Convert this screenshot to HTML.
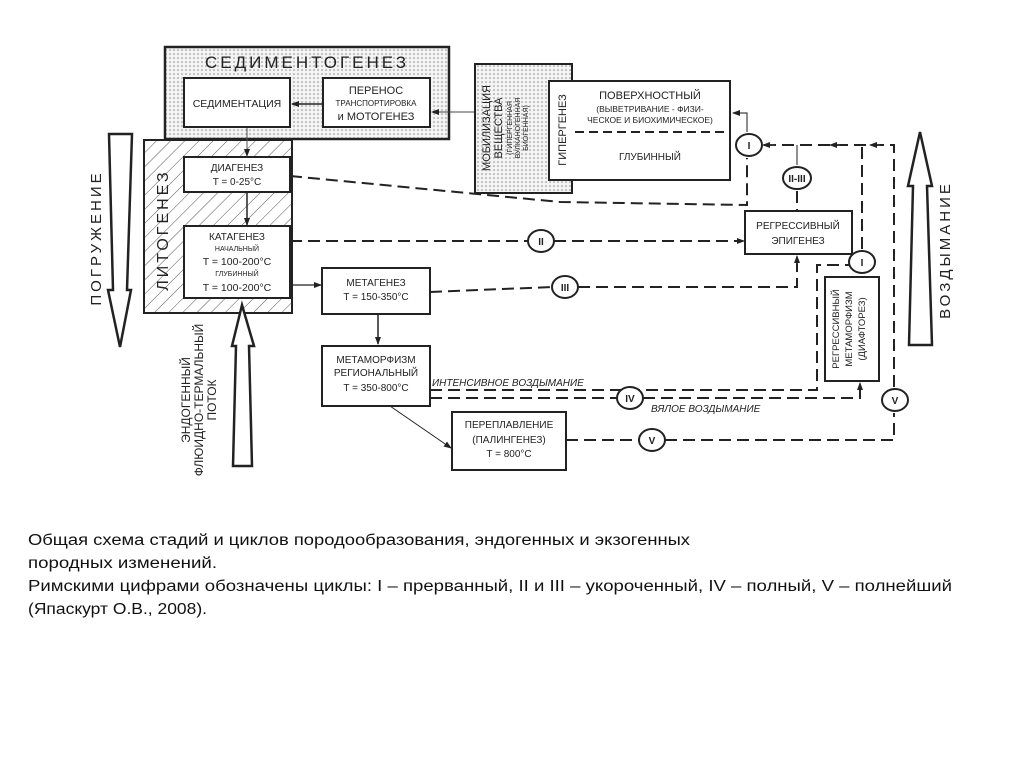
<!DOCTYPE html>
<html><head><meta charset="utf-8"><style>
html,body{margin:0;padding:0;background:#fff;}
svg{display:block;}
text{font-family:"Liberation Sans","Noto Sans CJK SC",sans-serif;fill:#222;}
.cap{font-size:15.5px;fill:#111;}
</style></head><body>
<svg width="1024" height="767" viewBox="0 0 1024 767" xmlns="http://www.w3.org/2000/svg">
<defs>
<pattern id="dots" width="4" height="4" patternUnits="userSpaceOnUse"><rect width="4" height="4" fill="#f4f4f4"/><circle cx="2" cy="2" r="0.8" fill="#888"/></pattern>
<pattern id="hatch" width="10" height="10" patternUnits="userSpaceOnUse" patternTransform="rotate(45)"><rect width="10" height="10" fill="#fff"/><line x1="0" y1="0" x2="0" y2="10" stroke="#555" stroke-width="1"/></pattern>
<marker id="ar" markerWidth="8" markerHeight="8" refX="7" refY="4" orient="auto" markerUnits="userSpaceOnUse"><path d="M0,1 L8,4 L0,7 z" fill="#222"/></marker>
</defs>

<!-- Sedimentogenez -->
<rect x="165" y="47" width="284" height="92" fill="url(#dots)" stroke="#222" stroke-width="2.5"/>
<text x="307" y="68" font-size="17" text-anchor="middle" letter-spacing="3">СЕДИМЕНТОГЕНЕЗ</text>
<rect x="184" y="78" width="106" height="49" fill="#fff" stroke="#222" stroke-width="2"/>
<text x="237" y="107" font-size="10.5" text-anchor="middle">СЕДИМЕНТАЦИЯ</text>
<rect x="323" y="78" width="107" height="49" fill="#fff" stroke="#222" stroke-width="2"/>
<text x="376" y="94" font-size="11" text-anchor="middle">ПЕРЕНОС</text>
<text x="376" y="106" font-size="8" text-anchor="middle">ТРАНСПОРТИРОВКА</text>
<text x="376" y="120" font-size="11" text-anchor="middle">и МОТОГЕНЕЗ</text>
<line x1="323" y1="104" x2="292" y2="104" stroke="#222" stroke-width="1.5" marker-end="url(#ar)"/>
<line x1="476" y1="112" x2="432" y2="112" stroke="#444" stroke-width="1" marker-end="url(#ar)"/>

<!-- Litogenez -->
<rect x="144" y="140" width="148" height="173" fill="url(#hatch)" stroke="#222" stroke-width="2"/>
<rect x="145" y="140" width="146" height="0" stroke="none"/>
<text transform="translate(168,230) rotate(-90)" font-size="16" text-anchor="middle" letter-spacing="3">ЛИТОГЕНЕЗ</text>
<rect x="184" y="157" width="106" height="35" fill="#fff" stroke="#222" stroke-width="2"/>
<text x="237" y="171" font-size="10" text-anchor="middle">ДИАГЕНЕЗ</text>
<text x="237" y="185" font-size="10" text-anchor="middle">T = 0-25°C</text>
<line x1="247" y1="128" x2="247" y2="156" stroke="#555" stroke-width="1" marker-end="url(#ar)"/>
<line x1="247" y1="192" x2="247" y2="225" stroke="#222" stroke-width="1.5" marker-end="url(#ar)"/>
<rect x="184" y="226" width="106" height="72" fill="#fff" stroke="#222" stroke-width="2"/>
<text x="237" y="240" font-size="10" text-anchor="middle">КАТАГЕНЕЗ</text>
<text x="237" y="251" font-size="7" text-anchor="middle">НАЧАЛЬНЫЙ</text>
<text x="237" y="265" font-size="10.5" text-anchor="middle">T = 100-200°C</text>
<text x="237" y="276" font-size="7" text-anchor="middle">ГЛУБИННЫЙ</text>
<text x="237" y="291" font-size="10.5" text-anchor="middle">T = 100-200°C</text>

<!-- Metagenez -->
<line x1="290" y1="285" x2="321" y2="285" stroke="#222" stroke-width="1.2" marker-end="url(#ar)"/>
<rect x="322" y="268" width="108" height="46" fill="#fff" stroke="#222" stroke-width="2"/>
<text x="376" y="286" font-size="10" text-anchor="middle">МЕТАГЕНЕЗ</text>
<text x="376" y="300" font-size="10" text-anchor="middle">T = 150-350°C</text>
<line x1="378" y1="314" x2="378" y2="344" stroke="#222" stroke-width="1.5" marker-end="url(#ar)"/>
<rect x="322" y="346" width="108" height="60" fill="#fff" stroke="#222" stroke-width="2"/>
<text x="376" y="363" font-size="10" text-anchor="middle">МЕТАМОРФИЗМ</text>
<text x="376" y="376" font-size="10" text-anchor="middle">РЕГИОНАЛЬНЫЙ</text>
<text x="376" y="391" font-size="10" text-anchor="middle">T = 350-800°C</text>
<line x1="390" y1="406" x2="451" y2="448" stroke="#222" stroke-width="1" marker-end="url(#ar)"/>
<rect x="452" y="412" width="114" height="58" fill="#fff" stroke="#222" stroke-width="2"/>
<text x="509" y="428" font-size="10" text-anchor="middle">ПЕРЕПЛАВЛЕНИЕ</text>
<text x="509" y="443" font-size="10" text-anchor="middle">(ПАЛИНГЕНЕЗ)</text>
<text x="509" y="457" font-size="10" text-anchor="middle">T = 800°C</text>

<!-- Mobilization -->
<rect x="475" y="64" width="97" height="129" fill="url(#dots)" stroke="#222" stroke-width="2"/>
<text transform="translate(490,128) rotate(-90)" font-size="11" text-anchor="middle">МОБИЛИЗАЦИЯ</text>
<text transform="translate(502,128) rotate(-90)" font-size="11" text-anchor="middle">ВЕЩЕСТВА</text>
<text transform="translate(512,128) rotate(-90)" font-size="7" text-anchor="middle">(ГИПЕРГЕННАЯ</text>
<text transform="translate(520,128) rotate(-90)" font-size="7" text-anchor="middle">ВУЛКАНОГЕННАЯ</text>
<text transform="translate(528,128) rotate(-90)" font-size="7" text-anchor="middle">БИОГЕННАЯ)</text>

<!-- Hypergenez -->
<rect x="549" y="81" width="181" height="99" fill="#fff" stroke="#222" stroke-width="2"/>
<text transform="translate(566,130) rotate(-90)" font-size="11" text-anchor="middle">ГИПЕРГЕНЕЗ</text>
<line x1="575" y1="132" x2="728" y2="132" stroke="#222" stroke-width="2" stroke-dasharray="9,5"/>
<text x="650" y="99" font-size="11" text-anchor="middle">ПОВЕРХНОСТНЫЙ</text>
<text x="650" y="112" font-size="8.5" text-anchor="middle">(ВЫВЕТРИВАНИЕ - ФИЗИ-</text>
<text x="650" y="123" font-size="8.5" text-anchor="middle">ЧЕСКОЕ И БИОХИМИЧЕСКОЕ)</text>
<text x="650" y="160" font-size="10" text-anchor="middle">ГЛУБИННЫЙ</text>

<!-- cycle lines -->
<g fill="none" stroke="#222" stroke-width="2" stroke-dasharray="12,6">
<path d="M290 176 L560 202 L747 205 L747 158"/>
<path d="M290 241 L528 241"/>
<path d="M554 241 L740 241"/>
<path d="M430 292 L552 287"/>
<path d="M578 287 L797 287 L797 262"/>
<path d="M430 390 L802 390 L817 390 L817 265 L849 265"/>
<path d="M430 398 L617 398"/>
<path d="M643 398 L860 398 L860 383"/>
<path d="M566 440 L639 440"/>
<path d="M665 440 L894 440 L894 413"/>
<path d="M894 387 L894 145 L762 145"/>
<path d="M862 249 L862 145"/>
<path d="M797 191 L797 210"/>
</g>
<g fill="none" stroke="#444" stroke-width="1.2">
<path d="M747 132 L747 113 L733 113" marker-end="url(#ar)"/>
<path d="M737 241 L744 241" marker-end="url(#ar)"/>
<path d="M797 264 L797 256" marker-end="url(#ar)"/>
<path d="M860 386 L860 383" marker-end="url(#ar)"/>
<path d="M797 145 L797 165"/>
<path d="M775 145 L763 145" marker-end="url(#ar)"/>
<path d="M840 145 L830 145" marker-end="url(#ar)"/>
<path d="M880 145 L870 145" marker-end="url(#ar)"/>
</g>

<!-- circles -->
<g fill="#fff" stroke="#222" stroke-width="2">
<ellipse cx="749" cy="145" rx="13" ry="11"/>
<ellipse cx="797" cy="178" rx="14" ry="11"/>
<ellipse cx="862" cy="262" rx="13" ry="11"/>
<ellipse cx="541" cy="241" rx="13" ry="11"/>
<ellipse cx="565" cy="287" rx="13" ry="11"/>
<ellipse cx="630" cy="398" rx="13" ry="11"/>
<ellipse cx="652" cy="440" rx="13" ry="11"/>
<ellipse cx="895" cy="400" rx="13" ry="11"/>
</g>
<g font-size="10" font-weight="bold" text-anchor="middle">
<text x="749" y="149">I</text>
<text x="797" y="182">II-III</text>
<text x="862" y="266">I</text>
<text x="541" y="245">II</text>
<text x="565" y="291">III</text>
<text x="630" y="402">IV</text>
<text x="652" y="444">V</text>
<text x="895" y="404">V</text>
</g>

<!-- regressive epigenez -->
<rect x="745" y="211" width="107" height="43" fill="#fff" stroke="#222" stroke-width="2"/>
<text x="798" y="229" font-size="10" text-anchor="middle">РЕГРЕССИВНЫЙ</text>
<text x="798" y="244" font-size="10" text-anchor="middle">ЭПИГЕНЕЗ</text>
<!-- regressive metamorphism -->
<rect x="825" y="277" width="54" height="104" fill="#fff" stroke="#222" stroke-width="2"/>
<text transform="translate(839,329) rotate(-90)" font-size="9.5" text-anchor="middle">РЕГРЕССИВНЫЙ</text>
<text transform="translate(852,329) rotate(-90)" font-size="9.5" text-anchor="middle">МЕТАМОРФИЗМ</text>
<text transform="translate(865,329) rotate(-90)" font-size="9.5" text-anchor="middle">(ДИАФТОРЕЗ)</text>

<text x="432" y="386" font-size="10" font-style="italic">ИНТЕНСИВНОЕ ВОЗДЫМАНИЕ</text>
<text x="651" y="412" font-size="10" font-style="italic">ВЯЛОЕ ВОЗДЫМАНИЕ</text>

<!-- big arrows -->
<g fill="#fff" stroke="#222" stroke-width="2.5" stroke-linejoin="miter">
<path d="M109 134 L132 134 L127 290 L131 290 L120 347 L108 290 L113 290 Z"/>
<path d="M920 132 L908 186 L913 186 L909 345 L932 345 L927 186 L932 186 Z"/>
<path d="M242 305 L232 346 L236 346 L233 466 L252 466 L249 346 L254 346 Z"/>
</g>
<text transform="translate(101,238) rotate(-90)" font-size="15" text-anchor="middle" letter-spacing="3">ПОГРУЖЕНИЕ</text>
<text transform="translate(950,250) rotate(-90)" font-size="15" text-anchor="middle" letter-spacing="3">ВОЗДЫМАНИЕ</text>
<text transform="translate(190,400) rotate(-90)" font-size="12" text-anchor="middle">ЭНДОГЕННЫЙ</text>
<text transform="translate(203,400) rotate(-90)" font-size="12" text-anchor="middle">ФЛЮИДНО-ТЕРМАЛЬНЫЙ</text>
<text transform="translate(216,400) rotate(-90)" font-size="12" text-anchor="middle">ПОТОК</text>

<!-- caption -->
<text class="cap" x="28" y="545" textLength="662" lengthAdjust="spacingAndGlyphs">Общая схема стадий и циклов породообразования, эндогенных и экзогенных</text>
<text class="cap" x="28" y="568" textLength="189" lengthAdjust="spacingAndGlyphs">породных изменений.</text>
<text class="cap" x="28" y="591" textLength="924" lengthAdjust="spacingAndGlyphs">Римскими цифрами обозначены циклы: I – прерванный,  II и III – укороченный,  IV – полный, V – полнейший</text>
<text class="cap" x="28" y="614" textLength="179" lengthAdjust="spacingAndGlyphs">(Япаскурт О.В., 2008).</text>
</svg>
</body></html>
